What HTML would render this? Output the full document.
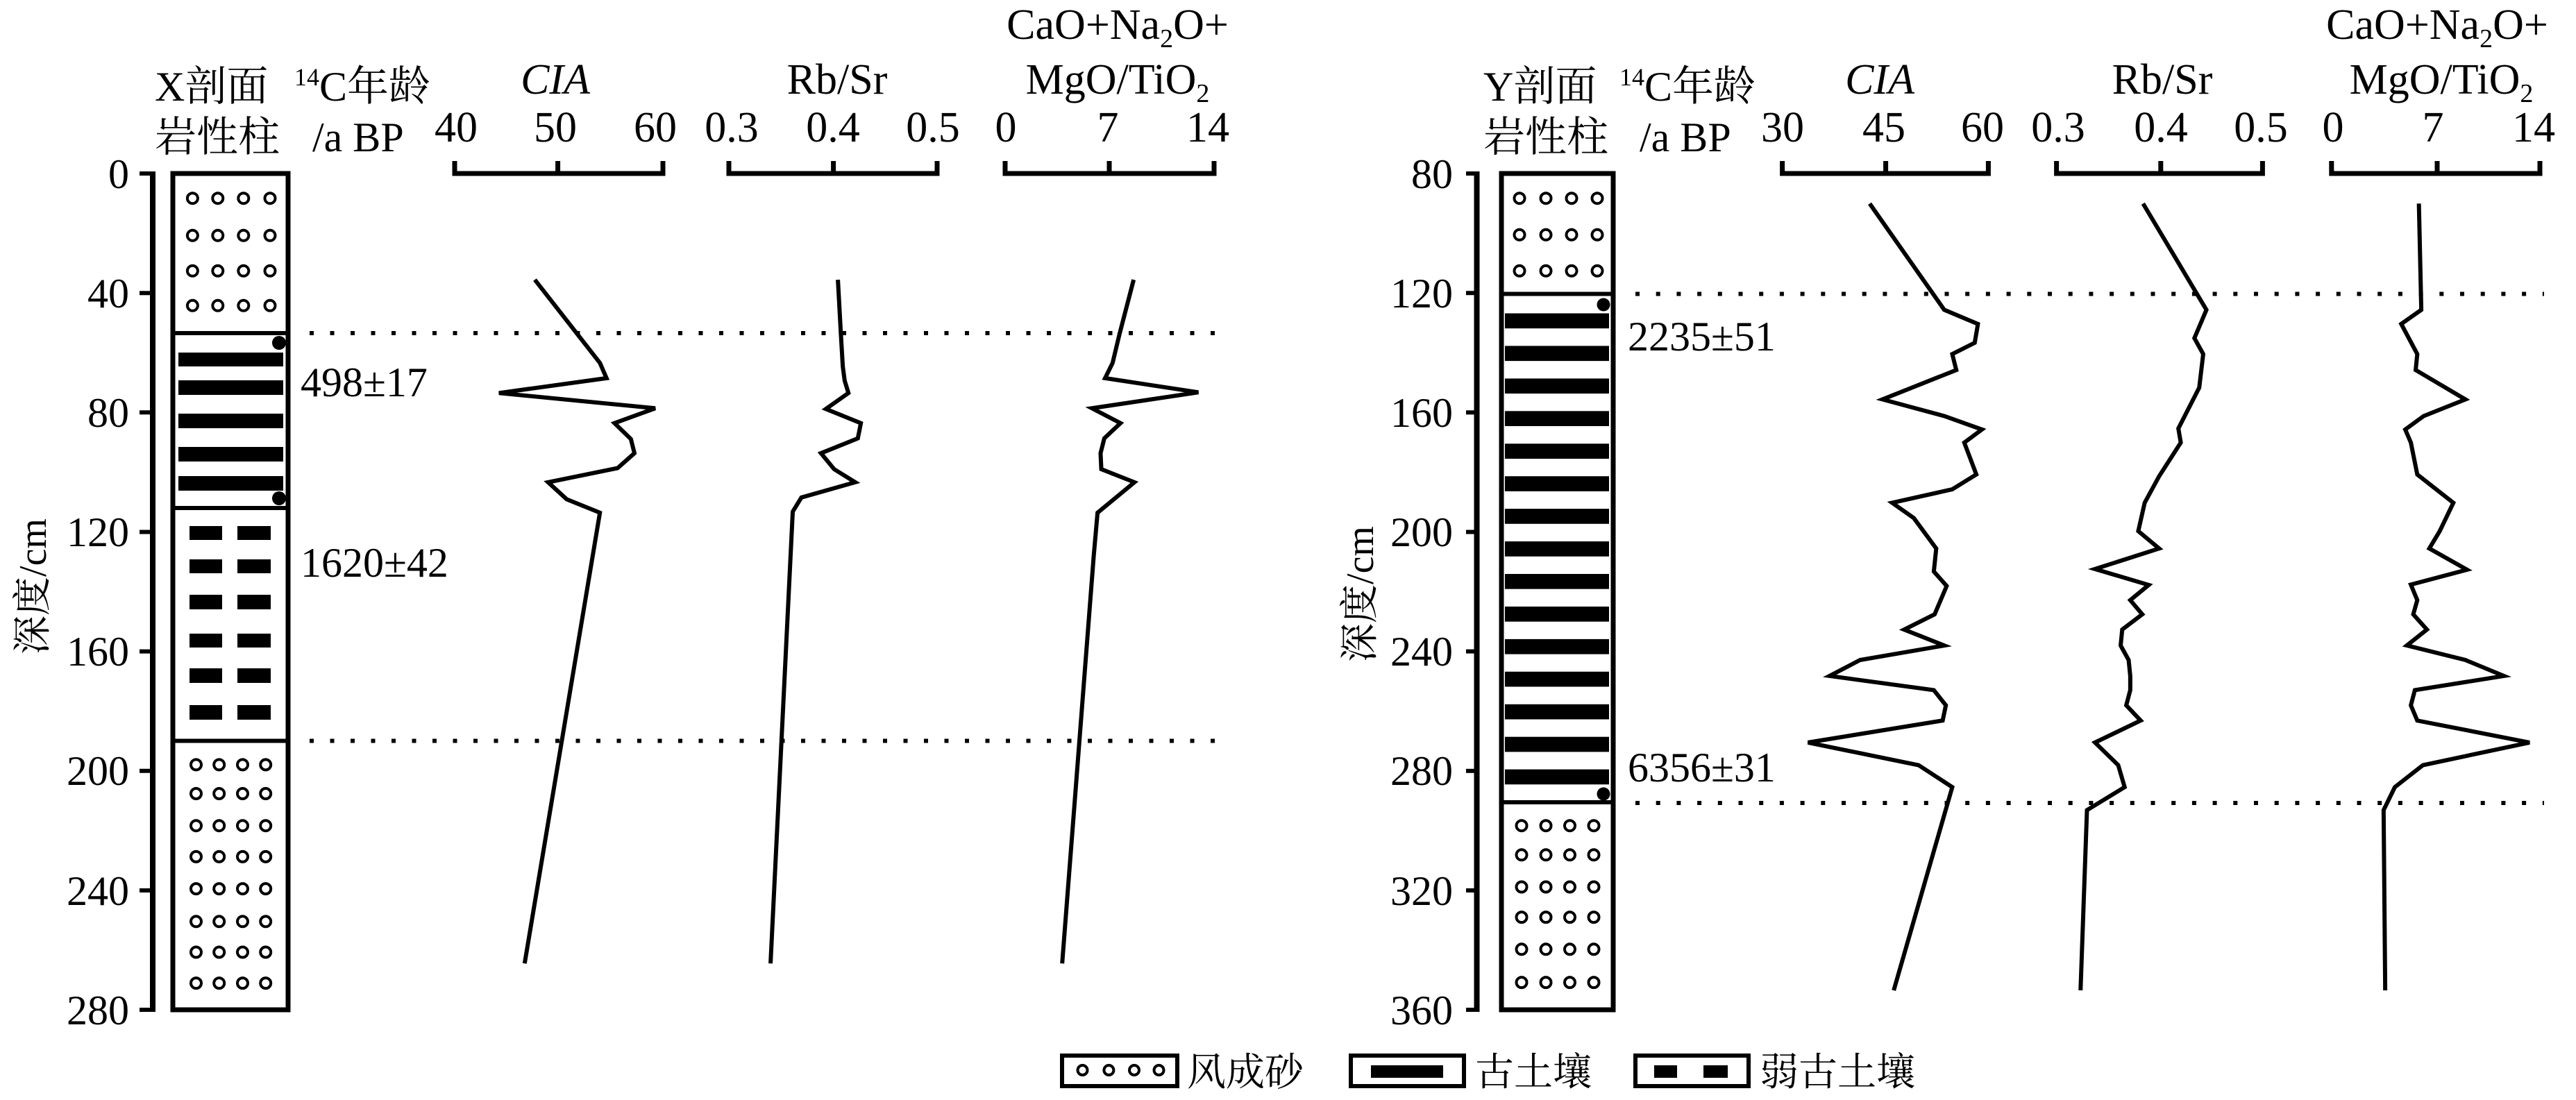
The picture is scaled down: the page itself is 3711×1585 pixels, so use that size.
<!DOCTYPE html>
<html><head><meta charset="utf-8"><style>
html,body{margin:0;padding:0;background:#fff;}
svg{display:block;}
svg text{font-family:"Liberation Serif","Times New Roman","Noto Serif CJK SC","DejaVu Serif",serif;fill:#000;}
.c{fill:none;stroke:#000;stroke-width:6;stroke-linejoin:miter;}
</style></head><body>
<svg width="3711" height="1585" viewBox="0 0 3711 1585" xmlns="http://www.w3.org/2000/svg" xmlns:xlink="http://www.w3.org/1999/xlink" font-family="Liberation Serif, Times New Roman, Noto Serif CJK SC, serif">
<defs>
<g id="r1"><circle cx="277.4" cy="0" r="7.5"/><circle cx="313.8" cy="0" r="7.5"/><circle cx="350.8" cy="0" r="7.5"/><circle cx="389" cy="0" r="7.5"/></g>
<g id="r2"><circle cx="282.5" cy="0" r="7.5"/><circle cx="315.7" cy="0" r="7.5"/><circle cx="349.5" cy="0" r="7.5"/><circle cx="382.7" cy="0" r="7.5"/></g>
<g id="r3"><circle cx="2189" cy="0" r="7.5"/><circle cx="2227" cy="0" r="7.5"/><circle cx="2264" cy="0" r="7.5"/><circle cx="2301" cy="0" r="7.5"/></g>
<g id="r4"><circle cx="2192" cy="0" r="7.5"/><circle cx="2227" cy="0" r="7.5"/><circle cx="2261.5" cy="0" r="7.5"/><circle cx="2296" cy="0" r="7.5"/></g>
</defs>
<rect width="3711" height="1585" fill="#fff"/>

<!-- ============ X PANEL ============ -->
<text x="223" y="145" font-size="60">X剖面</text>
<text x="223" y="218" font-size="60">岩性柱</text>
<text x="424" y="145" font-size="60"><tspan font-size="36" dy="-22">14</tspan><tspan dy="22">C年龄</tspan></text>
<text x="450" y="218" font-size="60">/a BP</text>
<text x="800" y="135" font-size="62" font-style="italic" text-anchor="middle">CIA</text>
<g font-size="62" text-anchor="middle">
<text x="657" y="204">40</text><text x="800" y="204">50</text><text x="944" y="204">60</text>
<text x="1206" y="135">Rb/Sr</text>
<text x="1054" y="204">0.3</text><text x="1200" y="204">0.4</text><text x="1344" y="204">0.5</text>
<text x="1610" y="56">CaO+Na<tspan font-size="38" dy="12">2</tspan><tspan dy="-12">O+</tspan></text>
<text x="1610" y="135">MgO/TiO<tspan font-size="38" dy="12">2</tspan></text>
<text x="1449" y="204">0</text><text x="1596" y="204">7</text><text x="1740" y="204">14</text>
</g>
<g fill="none" stroke="#000" stroke-width="7">
<path d="M655 232V250H955V232M803.6 250V232"/>
<path d="M1050 232V250H1350V232M1200.6 250V232"/>
<path d="M1448 232V250H1749V232M1598 250V232"/>
</g>
<g stroke="#000">
<line x1="220" y1="247" x2="220" y2="1458" stroke-width="8"/>
<g stroke-width="6">
<line x1="201" y1="250" x2="220" y2="250"/><line x1="201" y1="422.2" x2="220" y2="422.2"/>
<line x1="201" y1="594.3" x2="220" y2="594.3"/><line x1="201" y1="766.5" x2="220" y2="766.5"/>
<line x1="201" y1="938.6" x2="220" y2="938.6"/><line x1="201" y1="1110.8" x2="220" y2="1110.8"/>
<line x1="201" y1="1283" x2="220" y2="1283"/><line x1="201" y1="1455" x2="220" y2="1455"/>
</g></g>
<g font-size="60" text-anchor="end">
<text x="186" y="271">0</text><text x="186" y="443">40</text><text x="186" y="615">80</text>
<text x="186" y="787">120</text><text x="186" y="959">160</text><text x="186" y="1131">200</text>
<text x="186" y="1304">240</text><text x="186" y="1476">280</text>
</g>
<text transform="translate(66,845) rotate(-90)" font-size="56" text-anchor="middle">深度/cm</text>
<rect x="249" y="250" width="166" height="1205" fill="none" stroke="#000" stroke-width="7"/>
<g stroke="#000" stroke-width="6"><line x1="249" y1="480" x2="415" y2="480"/><line x1="249" y1="732" x2="415" y2="732"/><line x1="249" y1="1067.5" x2="415" y2="1067.5"/></g>
<g fill="#000">
<rect x="257" y="508" width="151" height="20"/><rect x="257" y="548" width="151" height="21"/>
<rect x="257" y="596" width="151" height="21"/><rect x="257" y="644" width="151" height="21"/>
<rect x="257" y="686" width="151" height="21"/>
<rect x="273" y="758" width="47" height="20"/><rect x="342" y="758" width="48" height="20"/>
<rect x="273" y="806" width="47" height="20"/><rect x="342" y="806" width="48" height="20"/>
<rect x="273" y="857" width="47" height="21"/><rect x="342" y="857" width="48" height="21"/>
<rect x="273" y="913" width="47" height="20"/><rect x="342" y="913" width="48" height="20"/>
<rect x="273" y="963" width="47" height="21"/><rect x="342" y="963" width="48" height="21"/>
<rect x="273" y="1016" width="47" height="21"/><rect x="342" y="1016" width="48" height="21"/>
<circle cx="402" cy="494" r="10"/><circle cx="402" cy="718" r="10"/>
</g>
<g fill="none" stroke="#000" stroke-width="4">
<use href="#r1" xlink:href="#r1" y="285.7"/><use href="#r1" xlink:href="#r1" y="339.3"/><use href="#r1" xlink:href="#r1" y="390.3"/><use href="#r1" xlink:href="#r1" y="440.3"/>
<use href="#r2" xlink:href="#r2" y="1101.9"/><use href="#r2" xlink:href="#r2" y="1143.5"/><use href="#r2" xlink:href="#r2" y="1189.7"/><use href="#r2" xlink:href="#r2" y="1234.4"/>
<use href="#r2" xlink:href="#r2" y="1280.6"/><use href="#r2" xlink:href="#r2" y="1327.8"/><use href="#r2" xlink:href="#r2" y="1372"/><use href="#r2" xlink:href="#r2" y="1416.6"/>
</g>
<text x="433" y="571" font-size="60">498±17</text>
<text x="433" y="831" font-size="60">1620±42</text>
<g stroke="#000" stroke-width="6" stroke-dasharray="6 23.5">
<line x1="446" y1="480" x2="1752" y2="480"/>
<line x1="446" y1="1067.5" x2="1752" y2="1067.5"/>
</g>
<g transform="matrix(0.6378,0,0,0.5102,0,0)">
<polyline class="c" vector-effect="non-scaling-stroke" points="1208,790 1355,1025 1370,1068 1127,1110 1480,1153 1388,1195 1425,1240 1433,1280 1395,1322 1238,1362 1280,1410 1355,1448 1185,2721"/>
</g>
<g transform="matrix(0.5421,0,0,0.5102,1000,0)">
<polyline class="c" vector-effect="non-scaling-stroke" points="382,790 390,945 395,1035 400,1075 410,1110 350,1155 443,1195 435,1238 337,1280 372,1325 428,1362 285,1405 262,1445 203,2721"/>
<polyline class="c" vector-effect="non-scaling-stroke" points="1168,790 1130,945 1112,1025 1092,1068 1340,1108 1057,1153 1133,1195 1090,1238 1080,1280 1082,1325 1170,1362 1072,1448 1062,1568 978,2721"/>
</g>

<!-- ============ Y PANEL ============ -->
<text x="2137" y="145" font-size="60">Y剖面</text>
<text x="2137" y="218" font-size="60">岩性柱</text>
<text x="2333" y="145" font-size="60"><tspan font-size="36" dy="-22">14</tspan><tspan dy="22">C年龄</tspan></text>
<text x="2362" y="218" font-size="60">/a BP</text>
<text x="2708" y="135" font-size="62" font-style="italic" text-anchor="middle">CIA</text>
<g font-size="62" text-anchor="middle">
<text x="2568" y="204">30</text><text x="2714" y="204">45</text><text x="2856" y="204">60</text>
<text x="3115" y="135">Rb/Sr</text>
<text x="2965" y="204">0.3</text><text x="3113" y="204">0.4</text><text x="3257" y="204">0.5</text>
<text x="3511" y="56">CaO+Na<tspan font-size="38" dy="12">2</tspan><tspan dy="-12">O+</tspan></text>
<text x="3517" y="135">MgO/TiO<tspan font-size="38" dy="12">2</tspan></text>
<text x="3361" y="204">0</text><text x="3505" y="204">7</text><text x="3650" y="204">14</text>
</g>
<g fill="none" stroke="#000" stroke-width="7">
<path d="M2567.6 232V250H2864.4V232M2716.6 250V232"/>
<path d="M2962.6 232V250H3259.4V232M3112.8 250V232"/>
<path d="M3358.8 232V250H3659V232M3511 250V232"/>
</g>
<g stroke="#000">
<line x1="2127.5" y1="247" x2="2127.5" y2="1458" stroke-width="8"/>
<g stroke-width="6">
<line x1="2112" y1="250" x2="2127" y2="250"/><line x1="2112" y1="422.2" x2="2127" y2="422.2"/>
<line x1="2112" y1="594.3" x2="2127" y2="594.3"/><line x1="2112" y1="766.5" x2="2127" y2="766.5"/>
<line x1="2112" y1="938.6" x2="2127" y2="938.6"/><line x1="2112" y1="1110.8" x2="2127" y2="1110.8"/>
<line x1="2112" y1="1283" x2="2127" y2="1283"/><line x1="2112" y1="1455" x2="2127" y2="1455"/>
</g></g>
<g font-size="60" text-anchor="end">
<text x="2093" y="271">80</text><text x="2093" y="443">120</text><text x="2093" y="615">160</text>
<text x="2093" y="787">200</text><text x="2093" y="959">240</text><text x="2093" y="1131">280</text>
<text x="2093" y="1304">320</text><text x="2093" y="1476">360</text>
</g>
<text transform="translate(1978,856) rotate(-90)" font-size="56" text-anchor="middle">深度/cm</text>
<rect x="2163" y="250" width="161" height="1205" fill="none" stroke="#000" stroke-width="7"/>
<g stroke="#000" stroke-width="6"><line x1="2163" y1="423.5" x2="2324" y2="423.5"/><line x1="2163" y1="1156" x2="2324" y2="1156"/></g>
<g fill="#000">
<rect x="2168" y="451.5" width="150" height="21.7"/><rect x="2168" y="498.4" width="150" height="21.7"/>
<rect x="2168" y="545.4" width="150" height="21.7"/><rect x="2168" y="592.3" width="150" height="21.7"/>
<rect x="2168" y="639.3" width="150" height="21.7"/><rect x="2168" y="686.2" width="150" height="21.7"/>
<rect x="2168" y="733.1" width="150" height="21.7"/><rect x="2168" y="780.1" width="150" height="21.7"/>
<rect x="2168" y="827" width="150" height="21.7"/><rect x="2168" y="874" width="150" height="21.7"/>
<rect x="2168" y="920.9" width="150" height="21.7"/><rect x="2168" y="967.8" width="150" height="21.7"/>
<rect x="2168" y="1014.8" width="150" height="21.7"/><rect x="2168" y="1061.7" width="150" height="21.7"/>
<rect x="2168" y="1108.6" width="150" height="21.7"/>
<circle cx="2310" cy="439" r="9.5"/><circle cx="2310" cy="1144" r="9.5"/>
</g>
<g fill="none" stroke="#000" stroke-width="4">
<use href="#r3" xlink:href="#r3" y="285.7"/><use href="#r3" xlink:href="#r3" y="338.3"/><use href="#r3" xlink:href="#r3" y="390.3"/>
<use href="#r4" xlink:href="#r4" y="1189.7"/><use href="#r4" xlink:href="#r4" y="1231.8"/><use href="#r4" xlink:href="#r4" y="1278"/>
<use href="#r4" xlink:href="#r4" y="1321.6"/><use href="#r4" xlink:href="#r4" y="1367.8"/><use href="#r4" xlink:href="#r4" y="1415.6"/>
</g>
<text x="2345" y="505" font-size="60">2235±51</text>
<text x="2345" y="1126" font-size="60">6356±31</text>
<g stroke="#000" stroke-width="6" stroke-dasharray="6 23.7">
<line x1="2356" y1="423.5" x2="3665" y2="423.5"/>
<line x1="2356" y1="1157" x2="3665" y2="1157"/>
</g>
<g transform="matrix(1.155,0,0,0.5102,1900,0)">
<polyline class="c" vector-effect="non-scaling-stroke" points="687,575 780,875 822,915 818,968 790,1000 795,1045 703,1128 780,1175 827,1213 805,1250 820,1340 790,1382 715,1420 742,1463 770,1549 767,1614 783,1655 768,1735 730,1778 780,1823 675,1864 637,1909 767,1949 782,1992 778,2035 610,2097 748,2161 790,2223 717,2797"/>
<polyline class="c" vector-effect="non-scaling-stroke" points="1028,575 1107,875 1092,955 1103,1000 1098,1095 1072,1210 1075,1250 1048,1345 1030,1420 1022,1500 1048,1549 968,1607 1035,1652 1012,1695 1027,1735 1002,1778 1000,1823 1010,1864 1012,1909 1012,1949 1007,1992 1025,2035 968,2097 997,2161 1005,2223 958,2288 950,2797"/>
<polyline class="c" vector-effect="non-scaling-stroke" points="1372,575 1375,875 1350,915 1370,1000 1368,1045 1430,1128 1378,1175 1355,1213 1362,1250 1370,1340 1415,1420 1398,1500 1385,1549 1432,1609 1362,1651 1370,1695 1365,1735 1382,1778 1357,1823 1430,1864 1478,1909 1367,1949 1362,1992 1370,2035 1510,2097 1377,2161 1342,2223 1328,2288 1330,2797"/>
</g>

<!-- ============ LEGEND ============ -->
<rect x="1530" y="1521" width="166" height="44" fill="none" stroke="#000" stroke-width="6"/>
<g fill="none" stroke="#000" stroke-width="4">
<circle cx="1559.5" cy="1542" r="7"/><circle cx="1597.4" cy="1542" r="7"/><circle cx="1634" cy="1542" r="7"/><circle cx="1669.5" cy="1542" r="7"/>
</g>
<text x="1710" y="1564" font-size="56">风成砂</text>
<rect x="1946" y="1521" width="163" height="44" fill="none" stroke="#000" stroke-width="6"/>
<rect x="1975" y="1535" width="104" height="18" fill="#000"/>
<text x="2125" y="1564" font-size="56">古土壤</text>
<rect x="2356" y="1521" width="163" height="44" fill="none" stroke="#000" stroke-width="6"/>
<rect x="2383" y="1535" width="33" height="18" fill="#000"/>
<rect x="2454" y="1535" width="35" height="18" fill="#000"/>
<text x="2535" y="1564" font-size="56">弱古土壤</text>
</svg>
</body></html>
